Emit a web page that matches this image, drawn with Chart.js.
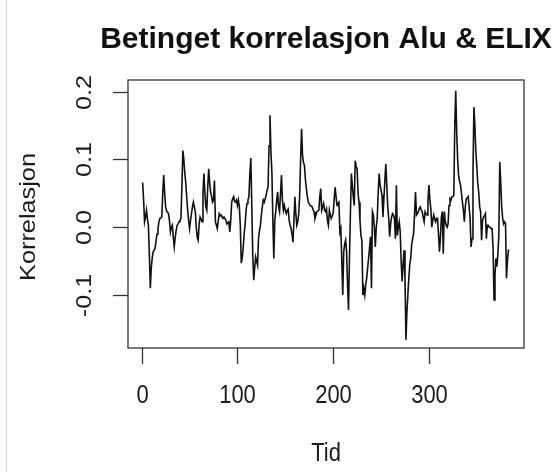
<!DOCTYPE html>
<html>
<head>
<meta charset="utf-8">
<title>Betinget korrelasjon Alu & ELIX</title>
<script src="https://cdn.jsdelivr.net/npm/chart.js@4/dist/chart.umd.min.js"></script>
<style>
  html, body { margin: 0; padding: 0; background: #fff; }
  #wrap { position: relative; width: 555px; height: 472px; }
  #edge { position: absolute; left: 6px; top: 0; width: 1px; height: 472px; background: #d4d4d4; }
</style>
</head>
<body>
<div id="wrap">
  <canvas id="plot" width="555" height="472"></canvas>
  <div id="edge"></div>
</div>
<script>
'use strict';

// Text
const title = 'Betinget korrelasjon Alu & ELIX';
const xLabel = 'Tid';
const yLabel = 'Korrelasjon';

// Axis ticks
const xTicks = [0, 100, 200, 300];
const yTicks = [-0.1, 0.0, 0.1, 0.2];
const yTickLabels = ['-0.1', '0.0', '0.1', '0.2'];

// Conditional correlation (t = 1..384)
const korrelasjon = [
    0.066, 0.040, 0.008, 0.015, 0.025, 0.012, 0.003, -0.040, -0.090, -0.060,
    -0.045, -0.036, -0.034, -0.031, -0.020, -0.010, -0.002, 0.008, 0.013, 0.014,
    0.015, 0.050, 0.077, 0.050, 0.030, 0.024, 0.022, 0.020, 0.010, -0.007,
    0.000, 0.003, -0.015, -0.029, -0.015, -0.005, 0.003, 0.005, 0.008, 0.010,
    0.013, 0.060, 0.113, 0.100, 0.080, 0.066, 0.045, 0.025, 0.010, -0.002,
    0.010, 0.020, 0.030, 0.037, 0.030, 0.023, 0.000, -0.015, -0.019, 0.005,
    0.015, 0.012, 0.008, 0.050, 0.079, 0.050, 0.030, 0.025, 0.060, 0.086,
    0.065, 0.052, 0.045, 0.037, 0.040, 0.069, 0.008, 0.003, -0.002, 0.010,
    0.020, 0.017, 0.018, 0.015, 0.013, 0.015, 0.015, 0.010, 0.005, 0.007,
    0.008, -0.007, 0.010, 0.037, 0.042, 0.045, 0.038, 0.037, 0.040, 0.032,
    0.040, 0.030, 0.003, -0.053, -0.045, -0.031, -0.010, 0.003, 0.025, 0.035,
    0.040, 0.045, 0.080, 0.102, 0.030, -0.040, -0.078, -0.060, -0.044, -0.050,
    -0.056, -0.017, -0.005, 0.003, 0.018, 0.030, 0.040, 0.037, 0.042, 0.047,
    0.055, 0.059, 0.120, 0.165, 0.110, 0.081, 0.010, -0.046, 0.010, 0.023,
    0.040, 0.052, 0.030, 0.023, 0.050, 0.077, 0.040, 0.025, 0.032, 0.025,
    0.020, 0.025, 0.027, 0.010, 0.003, -0.002, -0.010, -0.022, 0.010, 0.045,
    0.020, 0.003, 0.008, 0.020, 0.047, 0.100, 0.145, 0.106, 0.095, 0.091,
    0.070, 0.057, 0.045, 0.037, 0.034, 0.032, 0.031, 0.030, 0.026, 0.023,
    0.013, 0.018, 0.023, 0.024, 0.025, 0.045, 0.057, 0.025, 0.030, 0.035,
    0.025, 0.023, 0.027, 0.010, 0.003, 0.025, 0.018, 0.013, 0.017, 0.020,
    0.040, 0.059, 0.045, 0.032, 0.035, 0.037, -0.007, -0.002, -0.050, -0.100,
    -0.036, -0.025, -0.019, -0.036, -0.085, -0.122, -0.046, 0.020, 0.079, 0.062,
    0.045, 0.032, 0.098, 0.090, 0.086, 0.050, 0.037, 0.010, -0.012, -0.020,
    -0.100, -0.090, -0.100, -0.085, -0.075, -0.060, -0.046, -0.030, -0.014, -0.090,
    0.023, 0.018, 0.000, -0.029, 0.000, 0.013, 0.050, 0.079, 0.062, 0.055,
    0.047, 0.015, 0.042, 0.070, 0.093, 0.062, 0.030, 0.013, -0.014, 0.005,
    0.015, 0.020, 0.018, 0.013, -0.017, 0.062, -0.012, 0.000, 0.008, -0.007,
    -0.050, -0.080, -0.056, -0.034, -0.075, -0.166, -0.125, -0.100, -0.075, -0.055,
    -0.046, -0.025, -0.017, -0.009, 0.020, 0.052, 0.018, 0.020, 0.023, 0.028,
    0.030, 0.025, 0.023, 0.015, 0.008, 0.023, 0.020, 0.018, 0.040, 0.062,
    0.040, 0.027, 0.000, 0.010, 0.018, 0.012, 0.008, 0.013, 0.013, -0.010,
    -0.036, -0.015, 0.015, 0.023, -0.039, 0.023, 0.010, 0.003, 0.000, 0.005,
    0.032, 0.042, 0.040, 0.045, 0.045, 0.047, 0.150, 0.201, 0.140, 0.100,
    0.076, 0.068, 0.062, 0.050, 0.037, 0.025, 0.008, 0.030, 0.042, 0.043,
    0.045, 0.030, 0.013, -0.029, -0.017, 0.080, 0.177, 0.150, 0.111, 0.090,
    0.065, 0.052, 0.030, 0.023, -0.019, 0.010, 0.015, 0.017, 0.020, -0.017,
    0.003, 0.003, 0.000, 0.000, -0.002, -0.002, -0.031, -0.107, -0.070, -0.046,
    -0.058, -0.040, -0.012, 0.096, 0.066, 0.030, 0.013, 0.005, 0.008, 0.005,
    -0.075, -0.050, -0.034, -0.034
];
const tid = korrelasjon.map((v, i) => i + 1);

const FONT = '"Liberation Sans", Arial, Helvetica, sans-serif';
const INK = '#1b1b1b';
// the reference screenshot is a little stretched vertically
const STRETCH = 1.15;

// horizontal text, stretched vertically
function hText(ctx, s, x, y) {
    ctx.save();
    ctx.translate(x, y);
    ctx.scale(1, STRETCH);
    ctx.fillText(s, 0, 0);
    ctx.restore();
}

// vertical text (bottom to top), stretched along its length
function vText(ctx, s, x, y) {
    ctx.save();
    ctx.translate(x, y);
    ctx.rotate(-Math.PI / 2);
    ctx.scale(STRETCH, 1);
    ctx.fillText(s, 0, 0);
    ctx.restore();
}

/**
 * Base-R look: box around the plot, outward ticks, rotated y labels.
 */
const rAxes = {
    id: 'rAxes',
    afterDraw(chart) {
        const ctx = chart.ctx;
        const area = chart.chartArea;
        const xs = chart.scales.x;
        const ys = chart.scales.y;

        ctx.save();
        ctx.strokeStyle = '#333';
        ctx.lineWidth = 1.3;
        ctx.strokeRect(area.left, area.top, area.right - area.left, area.bottom - area.top);

        ctx.fillStyle = INK;
        ctx.font = '22px ' + FONT;
        ctx.textAlign = 'center';
        ctx.textBaseline = 'middle';

        // x axis
        xTicks.forEach(v => {
            const px = Math.round(xs.getPixelForValue(v)) + 0.5;
            ctx.beginPath();
            ctx.moveTo(px, area.bottom);
            ctx.lineTo(px, area.bottom + 16);
            ctx.stroke();
            hText(ctx, String(v), px, 396);
        });
        hText(ctx, xLabel, (area.left + area.right) / 2, 454);

        // y axis
        yTicks.forEach((v, i) => {
            const py = Math.round(ys.getPixelForValue(v)) + 0.5;
            ctx.beginPath();
            ctx.moveTo(area.left - 15, py);
            ctx.lineTo(area.left, py);
            ctx.stroke();
            vText(ctx, yTickLabels[i], 85, py);
        });
        vText(ctx, yLabel, 29, (area.top + area.bottom) / 2 + 3);

        // main title
        ctx.font = 'bold 30px ' + FONT;
        ctx.fillStyle = '#111';
        ctx.fillText(title, (area.left + area.right) / 2, 40);
        ctx.restore();
    }
};

new Chart(document.getElementById('plot').getContext('2d'), {
    type: 'line',
    data: {
        datasets: [{
            data: korrelasjon.map((v, i) => ({ x: tid[i], y: v })),
            borderColor: '#111',
            borderWidth: 1.6,
            pointRadius: 0,
            tension: 0,
            fill: false
        }]
    },
    options: {
        responsive: false,
        animation: false,
        layout: { padding: { left: 128, right: 31, top: 80, bottom: 124 } },
        scales: {
            x: { type: 'linear', min: -14.3, max: 399.3, display: false },
            y: { min: -0.178, max: 0.217, display: false }
        },
        plugins: {
            legend: { display: false },
            tooltip: { enabled: false }
        }
    },
    plugins: [rAxes]
});
</script>
</body>
</html>
